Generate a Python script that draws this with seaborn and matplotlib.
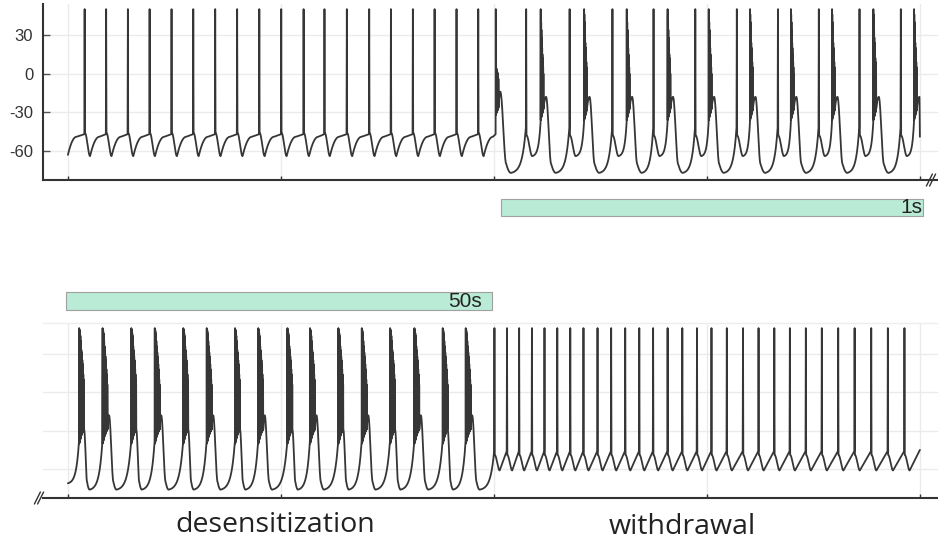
import numpy as np
import pandas as pd
import matplotlib
matplotlib.use("Agg")
import matplotlib.pyplot as plt
import matplotlib.transforms as mtransforms
from matplotlib.patches import Rectangle
from matplotlib.lines import Line2D
import seaborn as sns

# ---------------- data (time in tick units, voltage in mV) ----------------
x_ticks = [0, 1, 2, 3, 4]
y_ticks = [30, 0, -30, -60]
y_tick_labels = ["30", "0", "-30", "-60"]
y_limits = (-82.5, 54)
x_limits = (-0.117, 4.085)

spike_peak = 50

# top panel, left half: regular spiking
top_regular_spikes = [0.077, 0.178, 0.280, 0.382, 0.485, 0.587, 0.690, 0.793, 0.897,
                      1.000, 1.105, 1.203, 1.308, 1.413, 1.515, 1.618, 1.720, 1.823, 1.925]
top_start_v = -63
top_regular_trough = -64
top_regular_plateau = -48

# top panel, right half: withdrawal (single spike + burst)
top_wd_bursts = [2.008, 2.219, 2.423, 2.623, 2.815, 3.008, 3.202, 3.394, 3.587, 3.781, 3.972]
top_wd_singles = [2.150, 2.354, 2.555, 2.748, 2.944, 3.139, 3.332, 3.524, 3.715, 3.909]
top_wd_deep_trough = -77
top_wd_fall_level = -70
top_wd_single_base = -42
top_wd_mid_trough = -64
top_wd_burst_base = -38
top_wd_hump = -18
top_wd_first_hump = -14
top_end_v = -49
top_first_burst_peaks = [50, 5, 4, 3, 2, 1, 0, -2, -4]
top_first_burst_troughs = [-32, -31, -30, -30, -29, -28, -28, -27, -26]
top_burst_peaks = [50, 46, 40, 34, 28, 24, 20, 15, 12, 9, 5, 0]
top_burst_troughs = [-36, -35, -34, -33, -33, -32, -31, -30, -30, -29, -28, -27]

# bottom panel, left half: desensitization bursting
bottom_ds_bursts = [0.052, 0.162, 0.297, 0.407, 0.541, 0.651, 0.784, 0.893,
                    1.030, 1.136, 1.269, 1.379, 1.512, 1.626, 1.759, 1.867]
bottom_ds_hump_after = [False, True, False, True, False, True, False, True,
                        False, True, False, True, False, True, False, True]
bottom_start_v = -71
bottom_ds_trough = -76
bottom_ds_fall_level = -70
bottom_ds_burst_base = -38
bottom_ds_hump = -18
bottom_burst_peaks = [50, 49, 48, 46, 44, 40, 36, 33, 31, 28, 25, 22, 18, 14, 10, 6]
bottom_burst_troughs = [-40, -39, -38, -37, -36, -35, -34, -33,
                        -33, -32, -31, -31, -30, -30, -29, -29]

# bottom panel, right half: withdrawal tonic spiking
bottom_wd_spikes = [2.001, 2.060, 2.117, 2.177, 2.236, 2.296, 2.357, 2.419, 2.485, 2.549,
                    2.615, 2.681, 2.746, 2.814, 2.883, 2.952, 3.020, 3.092, 3.168, 3.241,
                    3.315, 3.388, 3.463, 3.538, 3.615, 3.692, 3.770, 3.848, 3.926]
bottom_wd_base = -46
bottom_wd_trough = -61
bottom_end_v = -45
trace_end = 4.0

panel_labels = ["desensitization", "withdrawal"]
scale_labels = ["1s", "50s"]

# ---------------- trace construction ----------------
EASE = {
    "lin": lambda u: u,
    "cos": lambda u: 0.5 - 0.5 * np.cos(np.pi * u),
    "up": lambda u: (np.exp(4 * u) - 1) / (np.exp(4) - 1),
    "out": lambda u: 1 - (1 - u) ** 2,
}


class Trace:
    def __init__(self, t0, v0):
        self.t = [t0]
        self.v = [v0]

    def to(self, t, v, kind="cos"):
        t0, v0 = self.t[-1], self.v[-1]
        n = max(2, int(abs(t - t0) / 0.0008) + 2)
        u = np.linspace(0, 1, n)[1:]
        w = EASE[kind](u)
        self.t.extend(list(t0 + (t - t0) * u))
        self.v.extend(list(v0 + (v - v0) * w))

    def spike(self, s, peak, after, width=0.003):
        self.t += [s + width / 2, s + width]
        self.v += [peak, after]

    def burst(self, b, peaks, troughs, dur):
        d = dur / len(peaks)
        for i, (p, q) in enumerate(zip(peaks, troughs)):
            self.t += [b + i * d + d / 2, b + (i + 1) * d]
            self.v += [p, q]


# top trace
top = Trace(0.0, top_start_v)
top.to(0.04, top_regular_plateau - 1, "out")
top.to(top_regular_spikes[0], top_regular_plateau + 1, "lin")
for i, s in enumerate(top_regular_spikes):
    nxt = top_regular_spikes[i + 1] if i + 1 < len(top_regular_spikes) else top_wd_bursts[0]
    top.spike(s, spike_peak, top_regular_plateau + 2)
    top.to(s + 0.027, top_regular_trough, "cos")
    top.to(s + 0.07, top_regular_plateau - 1, "out")
    top.to(nxt, top_regular_plateau + 1, "lin")
for j, b in enumerate(top_wd_bursts):
    if j == 0:
        top.burst(b, top_first_burst_peaks, top_first_burst_troughs, 0.014)
        top.to(b + 0.022, top_wd_first_hump, "out")
    else:
        top.burst(b, top_burst_peaks, top_burst_troughs, 0.014)
        top.to(b + 0.026, top_wd_hump, "out")
    if j < len(top_wd_singles):
        s = top_wd_singles[j]
        top.to(b + 0.05, top_wd_fall_level, "cos")
        top.to(b + 0.072, top_wd_deep_trough, "out")
        top.to(s, top_wd_single_base, "up")
        top.spike(s, spike_peak, top_wd_single_base - 6)
        top.to(s + 0.03, top_wd_mid_trough, "cos")
        top.to(top_wd_bursts[j + 1], top_wd_burst_base, "up")
    else:
        top.to(trace_end, top_end_v, "cos")

# bottom trace
bot = Trace(0.0, bottom_start_v)
for k, b in enumerate(bottom_ds_bursts):
    bot.to(b, bottom_ds_burst_base, "up")
    bot.burst(b, bottom_burst_peaks, bottom_burst_troughs, 0.024)
    if bottom_ds_hump_after[k]:
        bot.to(b + 0.031, bottom_ds_hump, "out")
        bot.to(b + 0.052, bottom_ds_fall_level, "cos")
        bot.to(b + 0.066, bottom_ds_trough, "out")
    else:
        bot.to(b + 0.038, bottom_ds_fall_level, "cos")
        bot.to(b + 0.05, bottom_ds_trough, "out")
for i, s in enumerate(bottom_wd_spikes):
    bot.to(s, bottom_wd_base, "lin" if i else "up")
    bot.spike(s, spike_peak, bottom_wd_base - 3)
    bot.to(s + 0.026, bottom_wd_trough, "cos")
bot.to(trace_end, bottom_end_v, "lin")

top_df = pd.DataFrame({"t": top.t, "v": top.v})
bot_df = pd.DataFrame({"t": bot.t, "v": bot.v})

# ---------------- figure ----------------
sns.set_theme(style="whitegrid")
plt.rcParams["font.family"] = ["Liberation Sans", "DejaVu Sans"]

W, H = 938, 544
fig = plt.figure(figsize=(W / 100, H / 100), dpi=100)
ax1 = fig.add_axes([43 / W, 1 - 180 / H, 895 / W, 176 / H])
ax2 = fig.add_axes([43 / W, 1 - 498 / H, 895 / W, 175 / H])

trace_color = "#363636"
for ax, df in ((ax1, top_df), (ax2, bot_df)):
    sns.lineplot(data=df, x="t", y="v", ax=ax, estimator=None, sort=False,
                 color=trace_color, linewidth=1.3)
    ax.set_xlim(*x_limits)
    ax.set_ylim(*y_limits)
    ax.set_xticks(x_ticks)
    ax.set_yticks(y_ticks)
    ax.set_xlabel("")
    ax.set_ylabel("")
    ax.set_facecolor("white")
    ax.grid(True, color="#ebebeb", linewidth=1.0)
    ax.set_xticklabels([])
    ax.tick_params(axis="x", direction="in", length=3, width=1, color="#333333",
                   bottom=True)
    for sp in ax.spines.values():
        sp.set_visible(False)
    ax.spines["bottom"].set_visible(True)
    ax.spines["bottom"].set_color("#333333")
    ax.spines["bottom"].set_linewidth(1.5)

ax1.spines["left"].set_visible(True)
ax1.spines["left"].set_color("#333333")
ax1.spines["left"].set_linewidth(1.5)
ax1.set_yticklabels(y_tick_labels, fontsize=12, color="#333333")
ax1.tick_params(axis="y", direction="in", length=5, width=1, color="#555555",
                left=True, pad=7)
ax2.set_yticklabels([])
ax2.tick_params(axis="y", length=0)
ax2.spines["top"].set_visible(True)
ax2.spines["top"].set_color("#eeeeee")
ax2.spines["top"].set_linewidth(1.0)


# axis break marks
def break_mark(ax, xf, yf):
    tr = ax.transAxes
    bb = ax.get_position()
    dx = 3.0 / (bb.width * W)
    dy = 6.0 / (bb.height * H)
    for off in (-1.6 / (bb.width * W), 1.6 / (bb.width * W)):
        ax.add_line(Line2D([xf + off - dx, xf + off + dx], [yf - dy, yf + dy],
                           transform=tr, color="#333333", lw=1.0, clip_on=False))


break_mark(ax1, (931 - 43) / 895, 0.0)
break_mark(ax2, (39 - 43) / 895, 0.0)

# scale bars
bar_fill = "#b9ebd6"
bar_edge = "#a0a0a0"
tr1 = mtransforms.blended_transform_factory(ax1.transData, ax1.transAxes)
tr2 = mtransforms.blended_transform_factory(ax2.transData, ax2.transAxes)
ax1.add_patch(Rectangle((2.033, -0.205), 1.98, 0.098, transform=tr1, facecolor=bar_fill,
                        edgecolor=bar_edge, lw=0.8, clip_on=False))
ax1.text(4.012, -0.158, scale_labels[0], transform=tr1, ha="right", va="center",
         fontsize=15, color="#222222", clip_on=False)
ax2.add_patch(Rectangle((-0.008, 1.072), 2.0, 0.103, transform=tr2, facecolor=bar_fill,
                        edgecolor=bar_edge, lw=0.8, clip_on=False))
ax2.text(1.945, 1.122, scale_labels[1], transform=tr2, ha="right", va="center",
         fontsize=15, color="#222222", clip_on=False)

# condition labels
fig.text(275 / W, 1 - 525 / H, panel_labels[0], ha="center", va="center", fontsize=20.5,
         color="#222222", family=["Open Sans", "DejaVu Sans"])
fig.text(682 / W, 1 - 527 / H, panel_labels[1], ha="center", va="center", fontsize=20.5,
         color="#222222", family=["Open Sans", "DejaVu Sans"])

fig.savefig("out.png", dpi=100)
